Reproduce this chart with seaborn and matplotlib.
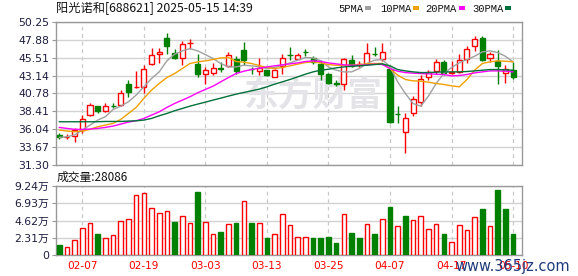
import numpy as np
import pandas as pd
import matplotlib
matplotlib.use("Agg")
import matplotlib.pyplot as plt
from matplotlib.patches import Rectangle
import seaborn as sns

# ---------------- data ----------------
title = "阳光诺和[688621] 2025-05-15 14:39"
vol_title = "成交量:28086"
date_ticks = [3, 11, 19, 27, 35, 43, 51, 59]
date_labels = ["02-07", "02-19", "03-03", "03-13", "03-25", "04-07", "04-17", "05-10"]
price_ticks = [31.30, 33.67, 36.04, 38.41, 40.78, 43.14, 45.51, 47.88, 50.25]
vol_ticks = [0, 2.31, 4.62, 6.93, 9.24]
vol_tick_labels = ["0", "2.31万", "4.62万", "6.93万", "9.24万"]

opens = [35.22, 35.00, 35.18, 35.93, 37.90, 39.10, 38.40, 39.15, 39.23, 41.97,
         41.68, 41.66, 44.74, 45.98, 48.18, 46.15, 45.54, 47.45, 44.66, 43.42,
         43.55, 44.10, 44.39, 45.41, 46.60, 44.00, 43.77, 43.86, 42.98, 44.44,
         45.88, 45.41, 46.27, 45.50, 44.74, 43.42, 42.14, 42.10, 45.19, 44.60,
         44.74, 46.00, 45.41, 44.08, 38.05, 35.71, 38.13, 39.68, 42.98, 43.77,
         45.00, 43.51, 43.64, 45.41, 47.08, 48.18, 45.54, 45.10, 43.55, 43.86]
highs = [35.49, 35.40, 36.15, 37.87, 39.45, 39.10, 39.45, 39.55, 41.30, 42.54,
         43.73, 44.50, 46.82, 46.82, 48.80, 46.73, 47.74, 48.05, 45.98, 44.30,
         44.83, 44.96, 46.29, 45.71, 47.57, 44.30, 45.54, 43.95, 44.04, 46.07,
         46.95, 46.20, 46.73, 45.71, 45.19, 43.55, 42.54, 45.54, 45.85, 45.05,
         47.48, 46.95, 47.48, 44.30, 39.10, 38.13, 40.43, 43.20, 43.86, 45.41,
         45.19, 45.10, 45.98, 47.04, 48.36, 48.36, 46.29, 46.60, 44.52, 44.92]
lows = [34.78, 34.74, 34.39, 35.49, 37.78, 38.22, 38.35, 38.80, 39.10, 40.25,
        41.44, 40.78, 44.52, 44.83, 46.07, 45.41, 44.52, 46.70, 42.98, 42.00,
        43.20, 43.64, 44.30, 43.42, 44.52, 43.33, 43.20, 43.07, 42.90, 43.42,
        45.27, 45.32, 45.71, 44.74, 42.63, 42.10, 41.75, 41.22, 44.30, 44.30,
        44.52, 45.71, 45.10, 36.90, 36.90, 32.93, 37.78, 39.10, 42.54, 43.42,
        43.20, 43.42, 43.50, 44.83, 46.42, 45.10, 44.96, 42.10, 42.20, 42.76]
closes = [34.96, 35.05, 35.93, 37.34, 39.23, 38.48, 39.10, 39.10, 40.78, 41.00,
          41.70, 44.08, 45.85, 46.24, 47.04, 45.54, 47.39, 47.50, 43.33, 43.86,
          44.22, 44.08, 45.89, 43.77, 45.19, 43.99, 44.22, 43.29, 43.95, 45.50,
          45.85, 45.85, 46.25, 44.96, 43.42, 42.23, 42.10, 45.41, 44.44, 44.70,
          46.20, 45.95, 46.29, 37.03, 38.00, 37.47, 39.98, 42.76, 43.64, 44.96,
          43.51, 43.64, 45.27, 46.73, 48.05, 45.27, 46.07, 44.44, 44.08, 42.90]

ma5 = [34.96, 35.05, 35.27, 35.93, 36.59, 37.25, 37.69, 38.66, 39.10, 39.68,
       40.56, 41.66, 42.76, 43.64, 45.10, 45.98, 46.42, 46.73, 46.42, 45.93,
       45.41, 44.75, 44.30, 44.30, 44.52, 44.44, 44.30, 44.08, 44.22, 44.52,
       44.83, 45.19, 45.54, 45.49, 45.10, 44.30, 43.86, 43.64, 43.64, 44.08,
       44.75, 45.19, 45.28, 44.30, 42.32, 40.77, 39.45, 39.10, 40.43, 42.10,
       43.42, 44.22, 44.83, 45.28, 45.71, 46.29, 46.42, 46.20, 45.71, 44.97]
ma10 = [35.93, 35.80, 35.71, 35.80, 36.02, 36.37, 36.59, 36.81, 37.34, 38.13,
        38.93, 40.12, 41.22, 42.10, 42.89, 43.42, 44.08, 44.75, 44.97, 45.10,
        45.28, 45.49, 45.54, 45.01, 44.92, 44.75, 44.48, 44.22, 44.08, 44.22,
        44.44, 44.66, 44.88, 44.97, 44.83, 44.61, 44.52, 44.52, 44.52, 44.61,
        44.70, 44.75, 44.75, 44.08, 43.20, 42.63, 42.45, 42.41, 42.28, 42.10,
        41.97, 41.79, 41.66, 42.63, 43.86, 44.75, 44.97, 45.10, 45.05, 44.97]
ma20 = [36.28, 36.15, 36.02, 36.02, 36.06, 36.15, 36.28, 36.46, 36.72, 36.99,
        37.16, 37.47, 37.91, 38.35, 38.93, 39.45, 39.90, 40.34, 40.87, 41.31,
        41.75, 42.32, 42.89, 43.42, 43.73, 43.95, 44.13, 44.30, 44.44, 44.57,
        44.70, 44.83, 45.01, 45.10, 45.01, 44.83, 44.70, 44.57, 44.52, 44.52,
        44.57, 44.66, 44.61, 44.08, 43.73, 43.55, 43.47, 43.42, 43.38, 43.33,
        43.29, 43.11, 43.16, 43.29, 43.51, 43.64, 43.77, 43.77, 43.73, 43.64]
ma30 = [37.03, 37.03, 37.03, 37.03, 37.03, 37.03, 37.07, 37.07, 37.07, 37.12,
        37.16, 37.25, 37.47, 37.82, 38.13, 38.49, 38.79, 39.10, 39.37, 39.63,
        39.90, 40.16, 40.43, 40.69, 40.91, 41.13, 41.35, 41.66, 42.01, 42.32,
        42.63, 42.98, 43.33, 43.64, 43.86, 43.99, 44.17, 44.30, 44.39, 44.44,
        44.52, 44.61, 44.70, 44.44, 43.95, 43.77, 43.64, 43.55, 43.55, 43.60,
        43.64, 43.64, 43.64, 43.69, 43.77, 43.86, 43.95, 43.95, 43.91, 43.86]

volumes = [1.35, 1.04, 2.03, 3.61, 4.28, 2.84, 2.25, 2.66, 4.55, 4.82,
           7.98, 8.34, 6.31, 5.63, 5.90, 4.46, 5.27, 4.28, 8.38, 4.42,
           2.84, 3.11, 4.19, 4.33, 7.26, 4.33, 4.33, 2.30, 2.84, 5.54,
           4.01, 2.43, 2.43, 2.25, 2.25, 2.39, 1.62, 5.54, 2.97, 2.25,
           4.15, 2.84, 4.82, 6.45, 3.88, 5.27, 4.69, 5.23, 3.47, 4.15,
           2.84, 1.76, 4.01, 3.34, 5.09, 6.22, 3.88, 8.65, 6.22, 2.81]
vol_up = [0, 1, 1, 1, 1, 0, 1, 1, 1, 1,
          1, 1, 1, 1, 1, 0, 1, 1, 0, 1,
          1, 0, 1, 0, 1, 0, 1, 0, 1, 1,
          1, 1, 1, 0, 0, 0, 0, 1, 0, 0,
          1, 0, 1, 0, 1, 0, 1, 1, 1, 1,
          0, 1, 1, 1, 1, 0, 1, 0, 0, 0]

ma_names = ["MA5", "MA10", "MA20", "MA30"]
legend_labels = ["5PMA", "10PMA", "20PMA", "30PMA"]

# ---------------- styling ----------------
RED = "#ff0000"
GREEN = "#008000"
MA_COLORS = {"MA5": "#a0a0a0", "MA10": "#f0a000", "MA20": "#ff00ff", "MA30": "#00703a"}
GRID = "#d2d2d2"
SPINE = "#999999"
TICKTXT = "#1c1c40"

sns.set_theme(style="white")
plt.rcParams['font.family'] = ['DejaVu Sans', 'Noto Sans CJK SC']

W, H = 578, 276
fig = plt.figure(figsize=(W / 100, H / 100), dpi=100)
fig.patch.set_facecolor("white")


def rect(l, t, r, b):
    return [l / W, 1 - b / H, (r - l) / W, (b - t) / H]


ax = fig.add_axes(rect(55.5, 22, 522.3, 165))
axv = fig.add_axes(rect(55.5, 186, 522.3, 255))

n = len(closes)
idx = np.arange(n)
XLIM = (-0.48, 60.2)

# ---------------- price panel ----------------
df = pd.DataFrame({"i": idx, "MA5": ma5, "MA10": ma10, "MA20": ma20, "MA30": ma30})
long = df.melt(id_vars="i", value_vars=ma_names, var_name="ma", value_name="v")

o = np.array(opens); c = np.array(closes); h = np.array(highs); l = np.array(lows)
up = c >= o
col = np.where(up, RED, GREEN)
ax.vlines(idx, l, h, colors=col, lw=1.0, zorder=3)
body_bottom = np.minimum(o, c)
body_h = np.abs(c - o)
ax.bar(idx, body_h, bottom=body_bottom, width=0.66,
       color=np.where(up, "white", GREEN), edgecolor=col, linewidth=1.0, zorder=4)

sns.lineplot(data=long, x="i", y="v", hue="ma", palette=MA_COLORS, hue_order=ma_names,
             linewidth=1.0, legend=False, ax=ax, zorder=5)

ax.set_xlim(*XLIM)
ax.set_ylim(31.30, 50.25)
ax.set_yticks(price_ticks)
ax.set_yticklabels([f"{t:.2f}" for t in price_ticks])
ax.set_xticks(date_ticks)
ax.set_xticklabels([])
ax.set_xlabel(""); ax.set_ylabel("")
ax.set_axisbelow(True)
ax.yaxis.grid(True, color=GRID, lw=1.0, ls="-")
ax.xaxis.grid(True, color="#c8c8c8", lw=0.9, ls=(0, (3, 3)))
ax.tick_params(axis="y", direction="out", length=3, width=0.8, color=SPINE,
               labelsize=7.8, labelcolor=TICKTXT, pad=1.5, left=True)
ax.tick_params(axis="x", length=0)
for s in ax.spines.values():
    s.set_color(SPINE); s.set_linewidth(1.0)

# watermark behind the candles
ax.text(313 / W, 1 - 95 / H, "东方财富", transform=fig.transFigure, fontsize=25,
        fontweight="bold", color="#e4e4e8", ha="center", va="center", zorder=0.6,
        family=["Noto Sans CJK SC"])

# ---------------- volume panel ----------------
vcol = [RED if u else GREEN for u in vol_up]
vface = ["white" if u else GREEN for u in vol_up]
axv.bar(idx, volumes, width=0.6, color=vface, edgecolor=vcol, linewidth=1.0, zorder=3)
axv.set_xlim(*XLIM)
axv.set_ylim(0, 9.24)
axv.set_yticks(vol_ticks)
axv.set_yticklabels(vol_tick_labels)
axv.set_xticks(date_ticks)
axv.set_xticklabels(date_labels)
axv.set_axisbelow(True)
axv.yaxis.grid(True, color=GRID, lw=1.0, ls="-")
axv.xaxis.grid(True, color="#c8c8c8", lw=0.9, ls=(0, (3, 3)))
axv.tick_params(axis="y", direction="out", length=3, width=0.8, color=SPINE,
                labelsize=7.8, labelcolor=TICKTXT, pad=1.5, left=True)
axv.tick_params(axis="x", length=0, labelsize=7.6, labelcolor=RED, pad=4)
for s in axv.spines.values():
    s.set_color(SPINE); s.set_linewidth(1.0)

# ---------------- texts ----------------
fig.text(56 / W, 1 - 8.5 / H, title, fontsize=8.8, color="#111111", va="center", ha="left",
         family=["Noto Sans CJK SC", "DejaVu Sans"])
fig.text(57 / W, 1 - 177 / H, vol_title, fontsize=8.5, color="#111111", va="center", ha="left",
         family=["Noto Sans CJK SC", "DejaVu Sans"])

leg_x = [338, 380, 425, 472]
sq_x = [365, 413, 459, 505]
for lab, lx, sx, name in zip(legend_labels, leg_x, sq_x, ma_names):
    fig.text(lx / W, 1 - 8.5 / H, lab, fontsize=7.6, color="#111111", va="center", ha="left",
             family=["Liberation Mono"])
    fig.patches.append(Rectangle((sx / W, 1 - 10 / H), 6 / W, 3.5 / H, transform=fig.transFigure,
                                 facecolor=MA_COLORS[name], edgecolor="none"))

fig.text(455 / W, 1 - 266 / H, "www.365jz.com", fontsize=10.5, color="#1f3b7c", va="center",
         ha="left", zorder=10)

fig.savefig("out.png", dpi=100, facecolor="white")
